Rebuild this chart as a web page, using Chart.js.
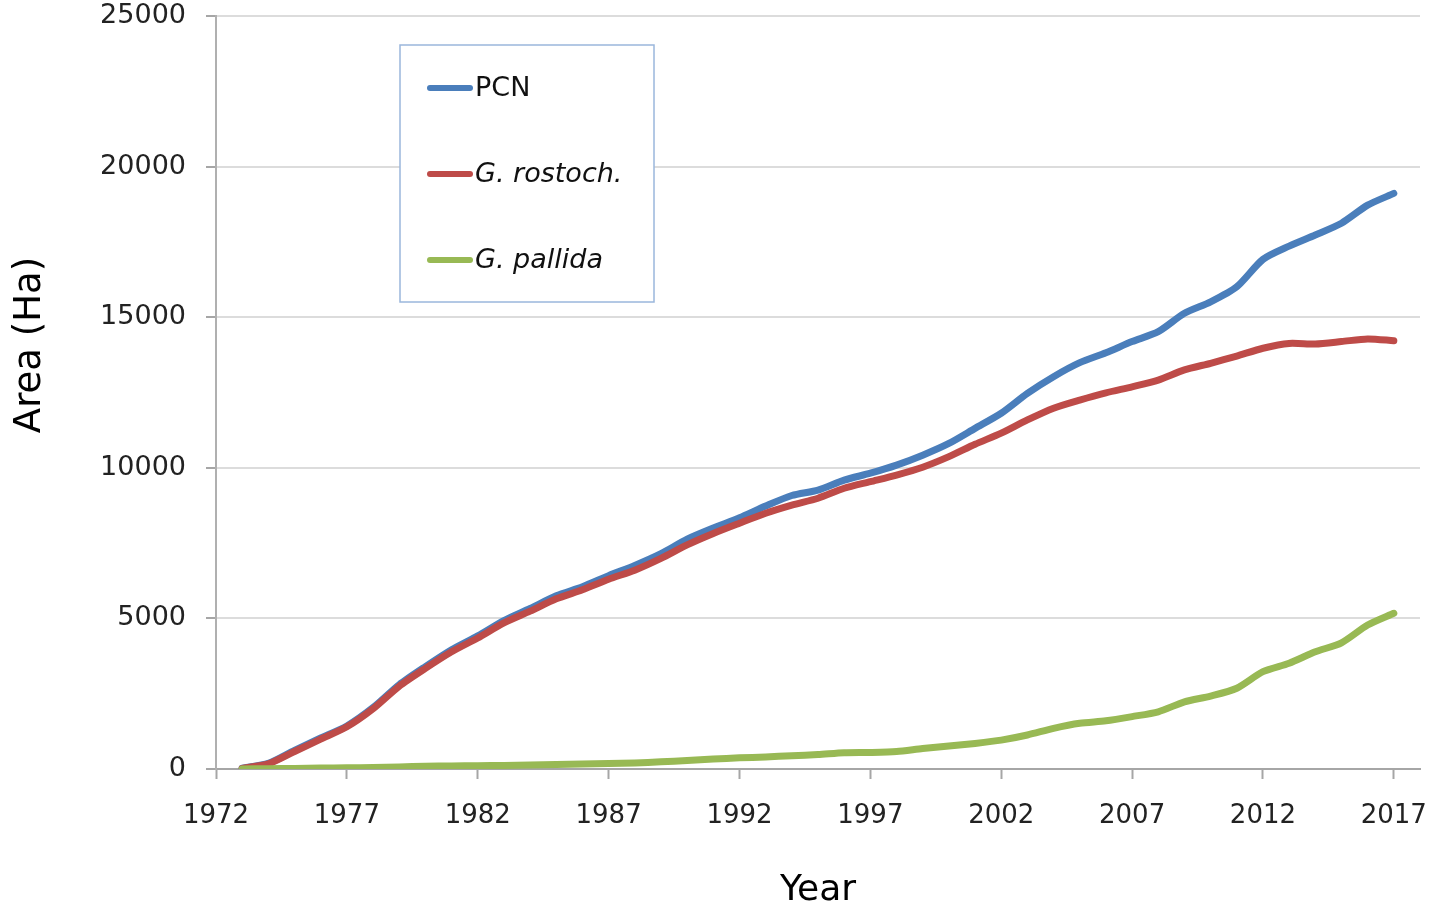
<!DOCTYPE html>
<html>
<head>
<meta charset="utf-8">
<script src="https://cdn.jsdelivr.net/npm/chart.js@4"></script>
<style>
  html, body { margin: 0; padding: 0; background: #fff; }
  #wrap { width: 1432px; height: 909px; }
</style>
</head>
<body>
<div id="wrap"><canvas id="myChart" width="1432" height="909"></canvas></div>
<script>
var years = [1973,1974,1975,1976,1977,1978,1979,1980,1981,1982,1983,1984,1985,1986,1987,1988,1989,1990,1991,1992,1993,1994,1995,1996,1997,1998,1999,2000,2001,2002,2003,2004,2005,2006,2007,2008,2009,2010,2011,2012,2013,2014,2015,2016,2017];
var pcn = [30,190,620,1030,1430,2040,2800,3400,3960,4420,4930,5330,5750,6050,6420,6760,7150,7630,8000,8340,8730,9080,9260,9590,9820,10090,10420,10810,11310,11810,12470,13025,13490,13820,14190,14520,15130,15510,16010,16920,17360,17730,18120,18720,19110];
var rostoch = [20,170,580,990,1400,2000,2750,3340,3890,4350,4850,5240,5650,5950,6300,6600,6990,7440,7820,8160,8490,8760,8990,9320,9540,9760,10020,10370,10780,11150,11590,11980,12250,12490,12690,12910,13250,13470,13710,13970,14130,14110,14190,14280,14220];
var pallida = [0,10,20,30,40,50,70,90,100,110,120,130,150,170,180,200,240,280,330,370,400,440,480,540,550,580,680,760,850,960,1130,1350,1517,1600,1740,1900,2230,2420,2680,3230,3510,3890,4190,4780,5170];
var year_ticks = [1972,1977,1982,1987,1992,1997,2002,2007,2012,2017];
var series_names = ["PCN", "G. rostoch.", "G. pallida"];
var series_colors = ["#4a7ebb", "#be4b48", "#98b954"];

function points(vals) {
	var out = [];
	for (var i = 0; i < years.length; i++) out.push({x: years[i], y: vals[i]});
	return out;
}

// legend box + y title drawn by hand, Excel style
var boxLegend = {
	id: 'boxLegend',
	afterDraw: function(chart) {
		var ctx = chart.ctx;
		ctx.save();
		ctx.strokeStyle = "#9ab7dc";
		ctx.lineWidth = 1.5;
		ctx.fillStyle = "#fff";
		ctx.fillRect(400, 45, 254, 257);
		ctx.strokeRect(400, 45, 254, 257);
		var ys = [88, 174, 260];
		for (var i = 0; i < series_names.length; i++) {
			ctx.strokeStyle = series_colors[i];
			ctx.lineWidth = 6;
			ctx.lineCap = "round";
			ctx.beginPath();
			ctx.moveTo(430, ys[i]);
			ctx.lineTo(470, ys[i]);
			ctx.stroke();
			ctx.fillStyle = "#111";
			ctx.font = (i == 0 ? "" : "italic ") + "27px 'DejaVu Sans'";
			ctx.textBaseline = "middle";
			ctx.fillText(series_names[i], 475, ys[i] + 1);
		}
		// y axis title, sits above the middle like the original
		ctx.translate(30, 345);
		ctx.rotate(-Math.PI / 2);
		ctx.fillStyle = "#000";
		ctx.font = "37px 'DejaVu Sans'";
		ctx.textAlign = "center";
		ctx.textBaseline = "middle";
		ctx.fillText("Area (Ha)", 0, 0);
		ctx.restore();
	}
};

var ds = [pcn, rostoch, pallida].map(function(v, i) {
	return {
		label: series_names[i],
		data: points(v),
		borderColor: series_colors[i],
		backgroundColor: series_colors[i],
		borderWidth: 7,
		borderCapStyle: "round",
		borderJoinStyle: "round",
		pointRadius: 0,
		tension: 0.25,
		order: 3 - i
	};
});

var ctx = document.getElementById("myChart");
var myChart = new Chart(ctx, {
	type: 'line',
	data: { datasets: ds },
	plugins: [boxLegend],
	options: {
		responsive: false,
		animation: false,
		layout: { padding: { top: 16, right: 12, left: 0, bottom: 0 } },
		plugins: { legend: { display: false }, tooltip: { enabled: false } },
		scales: {
			x: {
				type: 'linear',
				min: 1972,
				max: 2018,
				afterBuildTicks: function(scale) {
					scale.ticks = year_ticks.map(function(v) { return {value: v}; });
				},
				afterFit: function(scale) {
					scale.height = 140;
					scale.paddingLeft = 0;
					scale.paddingRight = 0;
				},
				grid: { drawOnChartArea: false, drawTicks: true, tickLength: 10, tickColor: "#a6a6a6", tickWidth: 2 },
				border: { color: "#a6a6a6", width: 2 },
				ticks: {
					color: "#222",
					font: { family: "'DejaVu Sans'", size: 26 },
					padding: 22,
					maxRotation: 0,
					autoSkip: false,
					callback: function(v) { return String(v); }
				},
				title: {
					display: true,
					text: "Year",
					color: "#000",
					font: { family: "'DejaVu Sans'", size: 36, lineHeight: 1 },
					padding: { top: 0, bottom: 0 }
				}
			},
			y: {
				min: 0,
				max: 25000,
				afterFit: function(scale) {
					scale.width = 216;
					scale.paddingTop = 0;
					scale.paddingBottom = 0;
				},
				ticks: {
					stepSize: 5000,
					color: "#222",
					font: { family: "'DejaVu Sans'", size: 27 },
					padding: 20,
					callback: function(v) { return String(v); }
				},
				grid: { color: "#dcdcdc", lineWidth: 2, tickLength: 10, tickColor: "#a6a6a6", tickWidth: 2 },
				border: { color: "#b0b0b0", width: 2 }
			}
		}
	}
});
</script>
</body>
</html>
